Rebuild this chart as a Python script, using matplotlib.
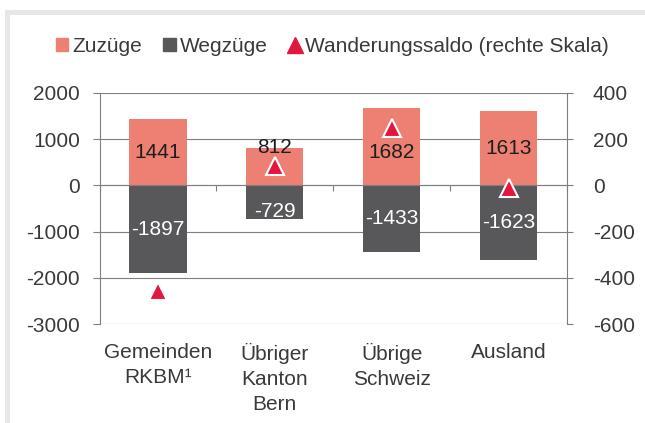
import matplotlib
matplotlib.use("Agg")
import matplotlib.pyplot as plt
import matplotlib.patches as mpatches
from matplotlib.lines import Line2D
from matplotlib.transforms import blended_transform_factory
import numpy as np

plt.rcParams['font.family'] = ['Liberation Sans', 'DejaVu Sans']

# data
categories = ["Gemeinden\nRKBM¹", "Übriger\nKanton\nBern", "Übrige\nSchweiz", "Ausland"]
zuzuege = [1441, 812, 1682, 1613]
wegzuege = [-1897, -729, -1433, -1623]
saldo = [-456, 83, 249, -10]
left_ticks = [-3000, -2000, -1000, 0, 1000, 2000]
right_ticks = [-600, -400, -200, 0, 200, 400]

c_zu = "#ED8072"
c_weg = "#58585A"
c_saldo = "#E3173E"
c_grid = "#7F7F7F"
c_text = "#3A3A3A"
fs = 15

fig = plt.figure(figsize=(6.45, 4.23), dpi=100)

# light grey frame strips on the left and top
W, H = 645, 423
fig.add_artist(mpatches.Rectangle((5 / W, 0), 5 / W, 1 - 10 / H, transform=fig.transFigure,
                                  fc="#E6E7E8", ec="none"))
fig.add_artist(mpatches.Rectangle((5 / W, 1 - 15 / H), 1, 5 / H, transform=fig.transFigure,
                                  fc="#E6E7E8", ec="none"))

ax = fig.add_axes([99.5 / W, 1 - 324 / H, (567 - 99.5) / W, (324 - 93) / H])
x = np.arange(len(categories))
width = 0.49

ax.bar(x, zuzuege, width, color=c_zu, zorder=2)
ax.bar(x, wegzuege, width, color=c_weg, zorder=2)

ax.set_xlim(-0.5, len(categories) - 0.5)
ax.set_ylim(left_ticks[0], left_ticks[-1])
ax.set_yticks(left_ticks)
ax.set_yticklabels([str(t) for t in left_ticks])
ax.yaxis.grid(True, color=c_grid, lw=0.8, zorder=0)
ax.set_axisbelow(True)

# category axis sits on the zero line, ticks at category boundaries
ax.spines['bottom'].set_position(('data', 0))
ax.spines['bottom'].set_color(c_grid)
ax.spines['bottom'].set_linewidth(0.8)
ax.spines['top'].set_visible(False)
ax.spines['right'].set_visible(False)
ax.spines['left'].set_color(c_grid)
ax.spines['left'].set_linewidth(0.8)
ax.set_xticks(np.arange(-0.5, len(categories), 1.0))
ax.set_xticklabels([])
ax.tick_params(axis='x', direction='out', length=4.5, width=0.8, color=c_grid)
ax.tick_params(axis='y', direction='out', length=5, width=0.8, color=c_grid,
               labelsize=fs, labelcolor=c_text, pad=9)

trans = blended_transform_factory(ax.transData, ax.transAxes)
for i, cat in enumerate(categories):
    ax.text(i, -0.082, cat, transform=trans, ha='center', va='top', fontsize=fs,
            color=c_text, linespacing=1.4)

# value labels (a few nudged off the markers, like the original)
zu_offsets = [0, 14, -4, 0]
weg_offsets = [0, -7, 0, 0]
for i in range(len(categories)):
    ax.annotate(str(zuzuege[i]), (x[i], zuzuege[i] / 2), xytext=(0, zu_offsets[i]),
                textcoords='offset points', ha='center', va='center', fontsize=fs,
                color="#1E1E1E", zorder=3)
    ax.annotate(str(wegzuege[i]), (x[i], wegzuege[i] / 2), xytext=(0, weg_offsets[i]),
                textcoords='offset points', ha='center', va='center', fontsize=fs,
                color="white", zorder=3)

# right axis for the migration balance
ax2 = ax.twinx()
ax2.set_ylim(right_ticks[0], right_ticks[-1])
ax2.set_yticks(right_ticks)
ax2.set_yticklabels([str(t) for t in right_ticks])
for s in ['top', 'bottom', 'left']:
    ax2.spines[s].set_visible(False)
ax2.spines['right'].set_color(c_grid)
ax2.spines['right'].set_linewidth(0.8)
ax2.tick_params(axis='y', direction='out', length=4.5, width=0.8, color=c_grid,
                labelsize=fs, labelcolor=c_text, pad=14)
ax2.plot(x, saldo, linestyle='none', marker='^', markersize=13, color=c_saldo,
         markeredgecolor='white', markeredgewidth=1.5, zorder=5, clip_on=False)

handles = [
    mpatches.Patch(color=c_zu),
    mpatches.Patch(color=c_weg),
    Line2D([], [], linestyle='none', marker='^', markersize=12, color=c_saldo),
]
labels = ["Zuzüge", "Wegzüge", "Wanderungssaldo (rechte Skala)"]
fig.legend(handles, labels, loc='center', bbox_to_anchor=(332.5 / W, 1 - 46 / H), ncol=3,
           frameon=False, fontsize=fs, handlelength=0.6, handleheight=0.6,
           handletextpad=0.2, columnspacing=1.0, labelcolor=c_text)

plt.savefig("out.png", dpi=100)
plt.close()
